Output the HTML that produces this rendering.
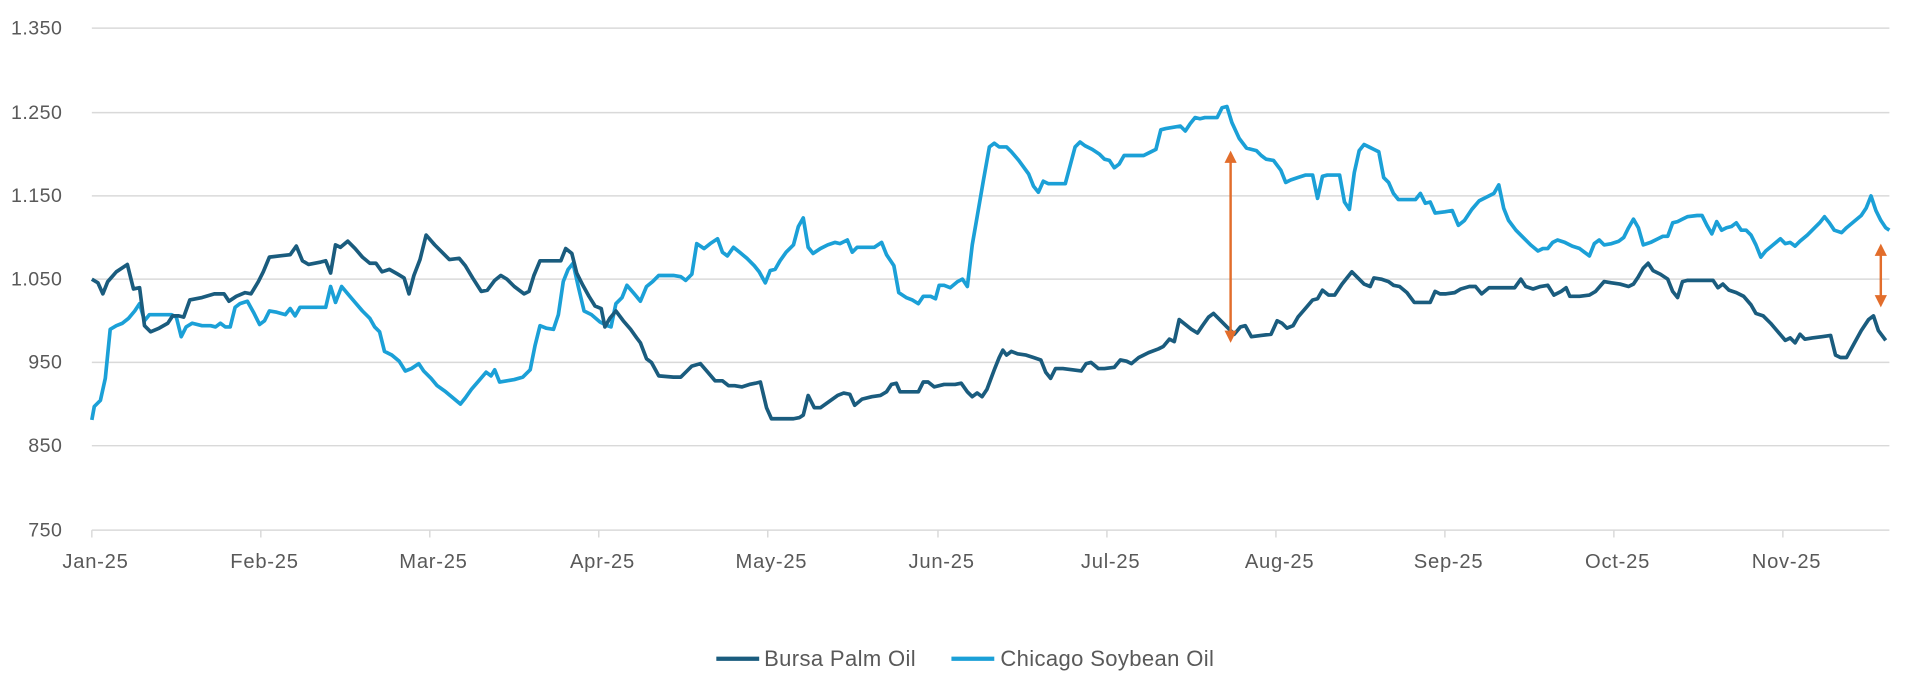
<!DOCTYPE html>
<html><head><meta charset="utf-8"><style>
html,body{margin:0;padding:0;background:#fff;}
svg{display:block;}
text{font-family:"Liberation Sans",sans-serif;fill:#595959;}
</style></head><body>
<svg width="1920" height="693" viewBox="0 0 1568 566" preserveAspectRatio="none">
<defs>
<marker id="ah" viewBox="0 0 10 10" refX="5" refY="5" markerWidth="5" markerHeight="5" orient="auto-start-reverse"><path d="M0,0L10,5L0,10z" fill="#e26d2b"/></marker>
</defs>
<g stroke="#d9d9d9" stroke-width="1.2">
<line x1="75" y1="23" x2="1543" y2="23"/>
<line x1="75" y1="92" x2="1543" y2="92"/>
<line x1="75" y1="160" x2="1543" y2="160"/>
<line x1="75" y1="228" x2="1543" y2="228"/>
<line x1="75" y1="296" x2="1543" y2="296"/>
<line x1="75" y1="364" x2="1543" y2="364"/>
<line x1="75" y1="433" x2="1543" y2="433"/>
<line x1="75" y1="433" x2="75" y2="439"/><line x1="213" y1="433" x2="213" y2="439"/><line x1="351" y1="433" x2="351" y2="439"/><line x1="489" y1="433" x2="489" y2="439"/><line x1="627" y1="433" x2="627" y2="439"/><line x1="766" y1="433" x2="766" y2="439"/><line x1="904" y1="433" x2="904" y2="439"/><line x1="1042" y1="433" x2="1042" y2="439"/><line x1="1180" y1="433" x2="1180" y2="439"/><line x1="1318" y1="433" x2="1318" y2="439"/><line x1="1456" y1="433" x2="1456" y2="439"/>
</g>
<g font-size="16" text-anchor="end" letter-spacing="0.4">
<text x="51" y="28">1.350</text><text x="51" y="97">1.250</text><text x="51" y="165">1.150</text><text x="51" y="233">1.050</text><text x="51" y="301">950</text><text x="51" y="369">850</text><text x="51" y="438">750</text>
</g>
<g font-size="16.5" text-anchor="middle" letter-spacing="0.6">
<text x="78" y="464">Jan-25</text><text x="216" y="464">Feb-25</text><text x="354" y="464">Mar-25</text><text x="492" y="464">Apr-25</text><text x="630" y="464">May-25</text><text x="769" y="464">Jun-25</text><text x="907" y="464">Jul-25</text><text x="1045" y="464">Aug-25</text><text x="1183" y="464">Sep-25</text><text x="1321" y="464">Oct-25</text><text x="1459" y="464">Nov-25</text>
</g>
<polyline fill="none" stroke="#1ba0d7" stroke-width="3" stroke-linejoin="round" points="75,343 77,332 82,327 86,309 90,269 95,266 100,264 105,260 110,254 114,248 118,262 122,257 130,257 140,257 144,259 148,275 152,267 157,264 165,266 172,266 176,267 180,264 184,267 188,267 192,251 196,248 202,246 207,255 212,265 216,262 220,254 226,255 233,257 237,252 241,258 245,251 250,251 258,251 266,251 270,234 274,247 279,234 284,240 290,247 296,254 302,260 306,267 310,271 314,287 320,290 326,295 331,303 336,301 342,297 346,303 352,309 357,315 364,320 370,325 376,330 380,325 385,318 391,311 397,304 401,307 404,302 408,312 414,311 420,310 427,308 433,302 437,282 441,266 446,268 452,269 456,257 460,230 464,220 468,215 472,233 477,254 483,257 490,263 496,266 499,267 503,248 508,243 512,233 518,240 523,246 528,234 533,230 538,225 550,225 556,226 560,229 565,224 569,199 575,203 580,199 586,195 590,206 594,209 599,202 604,206 610,211 616,217 620,222 625,231 629,221 633,220 637,213 642,206 648,200 652,185 656,178 660,202 664,207 670,203 676,200 682,198 686,199 692,196 696,206 700,202 706,202 714,202 720,198 724,208 730,217 734,239 740,243 745,245 750,248 754,242 760,242 764,244 767,233 771,233 776,235 782,230 786,228 790,234 794,200 798,177 803,148 808,120 812,117 816,120 822,120 826,124 832,131 840,142 844,152 848,157 852,148 856,150 862,150 870,150 874,135 878,120 882,116 886,119 892,122 898,126 902,130 906,131 910,137 914,134 918,127 922,127 930,127 934,127 940,124 944,122 948,106 952,105 958,104 964,103 968,107 972,101 976,96 980,97 984,96 994,96 998,88 1002,87 1006,100 1012,113 1018,121 1022,122 1026,123 1030,127 1034,130 1040,131 1046,139 1050,149 1054,147 1060,145 1066,143 1072,143 1076,162 1080,144 1084,143 1090,143 1094,143 1098,165 1102,171 1106,141 1110,123 1114,118 1118,120 1122,122 1126,124 1130,145 1134,149 1138,158 1142,163 1150,163 1156,163 1160,158 1164,166 1168,165 1172,174 1180,173 1186,172 1191,184 1196,180 1202,171 1208,164 1214,161 1220,158 1224,151 1228,170 1232,180 1238,188 1244,194 1250,200 1256,205 1260,203 1264,203 1268,198 1272,196 1278,198 1284,201 1290,203 1294,206 1298,209 1302,199 1306,196 1310,200 1316,199 1322,197 1326,194 1330,186 1334,179 1338,186 1342,200 1348,198 1354,195 1358,193 1362,193 1366,182 1370,181 1374,179 1378,177 1386,176 1390,176 1394,184 1398,191 1402,181 1406,188 1410,186 1414,185 1418,182 1422,188 1426,188 1430,192 1434,200 1438,210 1442,205 1448,200 1454,195 1458,199 1462,198 1466,201 1470,197 1476,192 1482,186 1486,182 1490,177 1494,182 1498,188 1504,190 1508,186 1514,181 1520,176 1524,170 1528,160 1532,172 1536,180 1540,186 1543,188"/>
<polyline fill="none" stroke="#1a5c7e" stroke-width="3" stroke-linejoin="round" points="75,228 80,231 84,240 88,230 95,222 104,216 109,236 114,235 118,266 123,271 130,268 137,264 141,258 146,258 150,259 155,245 165,243 175,240 183,240 187,246 193,242 200,239 205,240 211,230 215,222 220,210 228,209 237,208 242,201 247,213 252,216 262,214 266,213 270,223 274,200 278,202 284,197 290,203 296,210 302,215 307,215 312,222 318,220 325,224 330,227 334,240 338,225 343,212 348,192 355,200 362,207 367,212 375,211 380,217 386,227 393,238 398,237 404,229 409,225 414,228 420,234 428,240 432,238 436,225 441,213 447,213 458,213 462,203 467,207 471,223 476,233 481,242 486,250 491,252 494,267 498,260 503,254 509,262 515,269 520,276 523,280 528,293 532,296 538,307 550,308 556,308 561,303 565,299 572,297 578,304 584,311 590,311 595,315 600,315 606,316 612,314 617,313 621,312 626,333 630,342 636,342 648,342 653,341 656,339 660,323 665,333 670,333 677,328 684,323 689,321 694,322 698,331 704,326 712,324 719,323 724,320 728,314 732,313 735,320 740,320 750,320 754,312 758,312 763,316 771,314 780,314 785,313 790,320 794,324 798,321 802,324 806,318 812,302 816,292 819,286 822,290 826,287 831,289 838,290 844,292 850,294 854,304 858,309 862,301 868,301 876,302 883,303 887,297 891,296 897,301 902,301 910,300 915,294 920,295 924,297 930,292 938,288 946,285 950,283 955,277 959,279 963,261 968,265 973,269 978,272 982,266 987,259 991,256 996,261 1002,267 1008,273 1013,267 1017,266 1022,275 1030,274 1038,273 1043,262 1047,264 1051,268 1056,266 1060,259 1066,252 1072,245 1076,244 1080,237 1085,241 1090,241 1096,232 1104,222 1109,227 1114,232 1119,234 1122,227 1128,228 1134,230 1138,233 1143,234 1149,239 1155,247 1161,247 1168,247 1172,238 1176,240 1181,240 1188,239 1193,236 1200,234 1205,234 1210,240 1216,235 1224,235 1232,235 1237,235 1242,228 1246,234 1252,236 1258,234 1264,233 1269,241 1275,238 1279,235 1282,242 1290,242 1298,241 1303,238 1310,230 1316,231 1323,232 1330,234 1334,232 1338,226 1342,219 1346,215 1350,221 1356,224 1362,228 1366,238 1370,243 1374,230 1378,229 1395,229 1399,229 1403,235 1407,232 1412,237 1418,239 1424,242 1430,249 1434,256 1440,258 1446,264 1452,271 1458,278 1462,276 1466,280 1470,273 1474,277 1480,276 1488,275 1495,274 1499,290 1503,292 1508,292 1514,281 1520,270 1526,261 1530,258 1534,270 1540,278"/>
<line x1="1005" y1="128" x2="1005" y2="275" stroke="#e26d2b" stroke-width="2" marker-start="url(#ah)" marker-end="url(#ah)"/>
<line x1="1536" y1="204" x2="1536" y2="246" stroke="#e26d2b" stroke-width="2" marker-start="url(#ah)" marker-end="url(#ah)"/>
<line x1="585" y1="538" x2="620" y2="538" stroke="#1a5c7e" stroke-width="3.5"/>
<text x="624" y="544" font-size="18" letter-spacing="0.3">Bursa Palm Oil</text>
<line x1="777" y1="538" x2="812" y2="538" stroke="#1ba0d7" stroke-width="3.5"/>
<text x="817" y="544" font-size="18" letter-spacing="0.3">Chicago Soybean Oil</text>
</svg>
</body></html>
